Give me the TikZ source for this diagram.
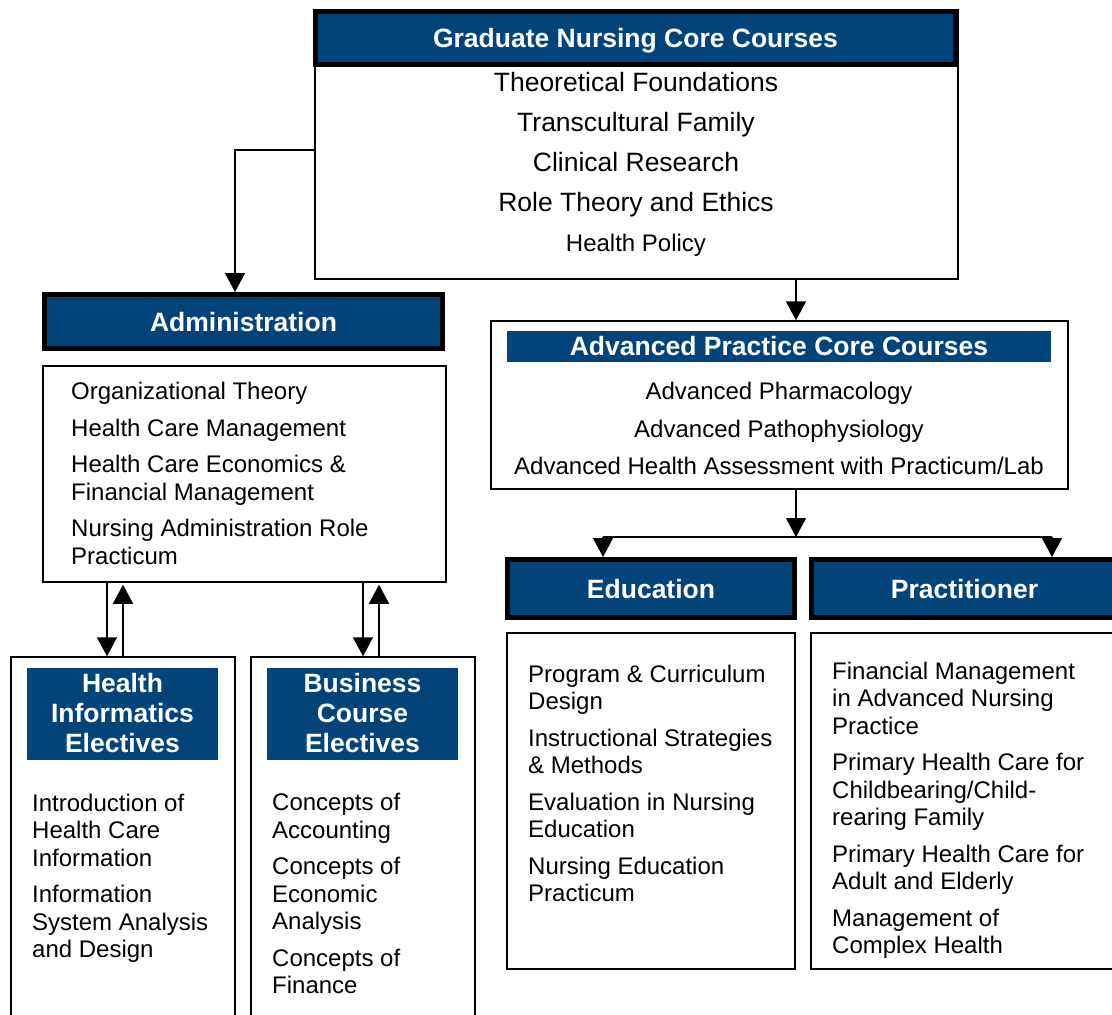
\documentclass[tikz,border=0pt]{standalone}
\usepackage{fontspec}
\setmainfont{Liberation Sans}
\usetikzlibrary{arrows.meta}
\definecolor{navy}{RGB}{2,68,122}
\begin{document}
\begin{tikzpicture}[x=1pt,y=-1pt,
  box/.style={draw=black, line width=1.5pt, fill=white, inner sep=0pt},
  hdr/.style={draw=black, line width=5pt, fill=navy, text=white, font=\fontsize{26.5}{30}\selectfont\bfseries, inner sep=0pt, align=center, text depth=0pt},
  bar/.style={fill=navy, text=white, font=\fontsize{26.5}{30}\selectfont\bfseries, inner sep=0pt, align=center},
  lst/.style={font=\fontsize{24}{27.5}\selectfont, align=left, inner sep=0pt, anchor=north west},
  arr/.style={line width=1.5pt, -{Triangle[width=20pt,length=19pt]}},
  ln/.style={line width=1.5pt}
]
\useasboundingbox (0,0) rectangle (1112,1015);
\fill[white] (0,0) rectangle (1112,1015);
\clip (0,0) rectangle (1112,1015);

% top box
\node[box, minimum width=643, minimum height=269] (top) at (636.5,144.5) {};
\node[hdr, minimum width=640, minimum height=53] (gnh) at (635.5,38) {Graduate Nursing Core Courses};
\node[font=\fontsize{26.5}{40}\selectfont, align=center, inner sep=0pt, anchor=north] (toplist) at (636,72.5)
  {Theoretical Foundations\\Transcultural Family\\Clinical Research\\Role Theory and Ethics\\{\fontsize{24}{40}\selectfont Health Policy}};

% administration
\node[hdr, minimum width=398, minimum height=54] (admh) at (243.5,321.5) {Administration};
\node[box, minimum width=403, minimum height=216] (adml) at (244.5,474) {};
\node[lst] (admtext) at (71,382.4) {Organizational Theory\\[9pt]Health Care Management\\[9pt]Health Care Economics \&\\Financial Management\\[9pt]Nursing Administration Role\\Practicum};

% electives
\node[box, minimum width=224, minimum height=383] (hi) at (123,848.5) {};
\node[bar, minimum width=191, minimum height=92] (hibar) at (122.5,713.5) {Health\\Informatics\\Electives};
\node[lst] (hitext) at (32,793.4) {Introduction of\\Health Care\\Information\\[9pt]Information\\System Analysis\\and Design};

\node[box, minimum width=224, minimum height=383] (bus) at (363,848.5) {};
\node[bar, minimum width=191, minimum height=92] (busbar) at (362.5,713.5) {Business\\Course\\Electives};
\node[lst] (bustext) at (272,793.4) {Concepts of\\Accounting\\[9pt]Concepts of\\Economic\\Analysis\\[9pt]Concepts of\\Finance};

% advanced practice
\node[box, minimum width=577, minimum height=168] (apcc) at (779.5,405) {};
\node[bar, minimum width=544, minimum height=31] (apccbar) at (779,346.5) {Advanced Practice Core Courses};
\node[font=\fontsize{24}{37.5}\selectfont, align=center, inner sep=0pt, anchor=north] (apcctext) at (779,382.4)
  {Advanced Pharmacology\\Advanced Pathophysiology\\Advanced Health Assessment with Practicum/Lab};

% education / practitioner
\node[hdr, minimum width=287, minimum height=58] (edu) at (651,588.5) {Education};
\node[hdr, minimum width=306, minimum height=58] (prac) at (964.5,588.5) {Practitioner};
\node[box, minimum width=288, minimum height=336] (edul) at (651,801) {};
\node[box, minimum width=309, minimum height=336] (pracl) at (965.5,801) {};
\node[lst] (edutext) at (528,664.4) {Program \& Curriculum\\Design\\[9pt]Instructional Strategies\\\& Methods\\[9pt]Evaluation in Nursing\\Education\\[9pt]Nursing Education\\Practicum};
\node[lst] (practext) at (832,661.4) {Financial Management\\in Advanced Nursing\\Practice\\[9pt]Primary Health Care for\\Childbearing/Child-\\rearing Family\\[9pt]Primary Health Care for\\Adult and Elderly\\[9pt]Management of\\Complex Health};

% connectors
\draw[arr] ([yshift=-5.5pt]top.west) -| ([xshift=-8.5pt]admh.north);
\coordinate (a1) at ([xshift=16.5pt]apcc.north);
\draw[arr] (a1 |- top.south) -- (a1);
\coordinate (j) at (796,537);
\coordinate (jl) at (603,537);
\coordinate (jr) at (1052,537);
\draw[arr] (j |- apcc.south) -- (j);
\draw[ln] (jl) -- (jr);
\draw[arr] (jl) -- (jl |- edu.north);
\draw[arr] (jr) -- (jr |- prac.north);

\coordinate (d1) at ([xshift=-16pt]hi.north);
\draw[arr] (d1 |- adml.south) -- (d1);
\draw[arr, shorten >=2pt] (hi.north) -- (hi.north |- adml.south);
\coordinate (u2) at ([xshift=16pt]bus.north);
\draw[arr] (bus.north |- adml.south) -- (bus.north);
\draw[arr, shorten >=2pt] (u2) -- (u2 |- adml.south);
\end{tikzpicture}
\end{document}
